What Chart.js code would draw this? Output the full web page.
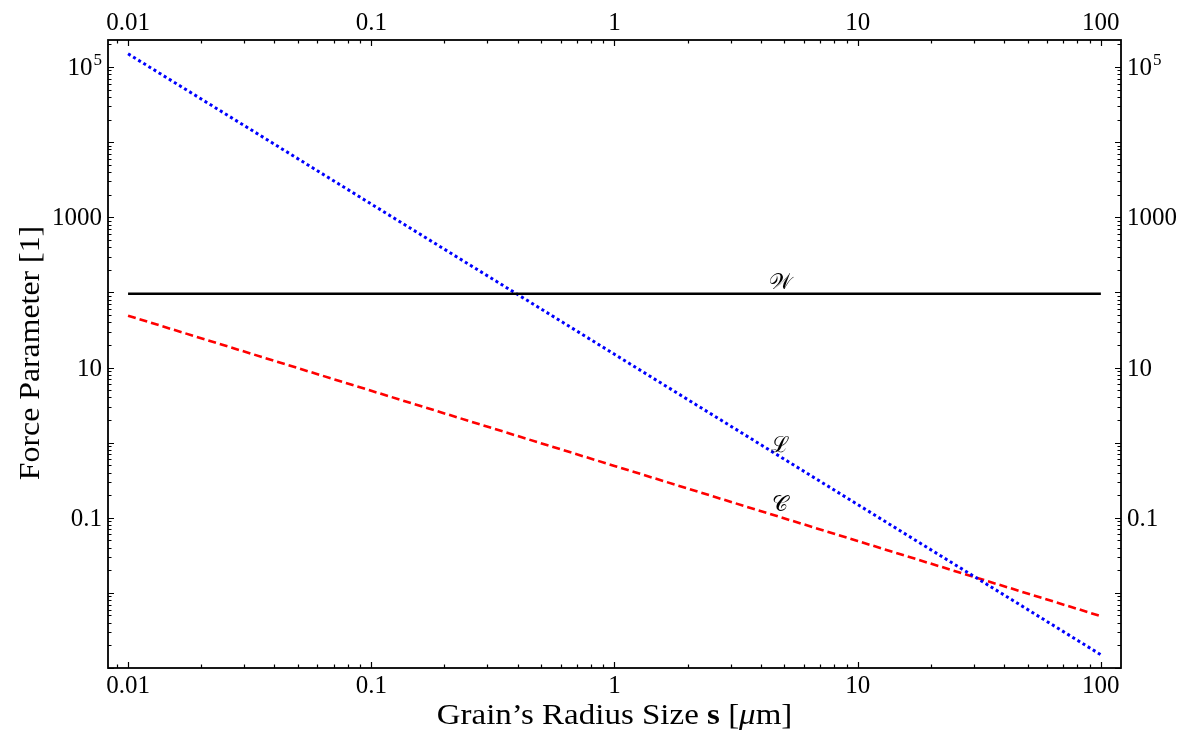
<!DOCTYPE html>
<html>
<head>
<meta charset="utf-8">
<script src="https://cdn.jsdelivr.net/npm/chart.js@4/dist/chart.umd.min.js"></script>
<style>
  html, body { margin: 0; padding: 0; background: #fff; }
  #wrap { width: 1191px; height: 731px; position: relative; }
</style>
</head>
<body>
<div id="wrap"><canvas id="chart"></canvas></div>
<script>
// grain radius s [um]
const radius = [0.01, 0.1, 1, 10, 100];
// force parameters
const weight = [96, 96, 96, 96, 96];
const lorentz = [150000, 1500, 15, 0.15, 0.0015];
const coulomb = [49, 4.9, 0.49, 0.049, 0.0049];

const xTicks = [0.01, 0.1, 1, 10, 100];
const xTickLabels = ["0.01", "0.1", "1", "10", "100"];
const yTicks = [1e5, 1000, 10, 0.1];
const yTickLabels = ["10^5", "1000", "10", "0.1"];

const SERIF = "'Liberation Serif', 'DejaVu Serif', serif";
const TICK_FONT = "25px " + SERIF;
const SUP_FONT = "17px " + SERIF;

function pts(ys) {
    return radius.map((x, i) => ({ x: x, y: ys[i] }));
}

// draws the frame, inward ticks, labels and titles
const axesPlugin = {
    id: "axesPlugin",
    afterDatasetsDraw(chart) {
        const ctx = chart.ctx;
        const a = chart.chartArea;
        const xs = chart.scales.x;
        const ys = chart.scales.y;
        ctx.save();
        ctx.strokeStyle = "#000";
        ctx.fillStyle = "#000";

        // minor + decade ticks, pointing inward
        ctx.lineWidth = 1.2;
        for (let e = -3; e <= 5; e++) {
            for (let m = 1; m <= 9; m++) {
                const v = m * Math.pow(10, e);
                const len = m === 1 ? 6 : 3.5;
                if (v >= xs.min && v <= xs.max) {
                    const px = Math.round(xs.getPixelForValue(v)) + 0.5;
                    ctx.beginPath();
                    ctx.moveTo(px, a.bottom); ctx.lineTo(px, a.bottom - len);
                    ctx.moveTo(px, a.top); ctx.lineTo(px, a.top + len);
                    ctx.stroke();
                }
                if (v >= ys.min && v <= ys.max) {
                    const py = Math.round(ys.getPixelForValue(v)) + 0.5;
                    ctx.beginPath();
                    ctx.moveTo(a.left, py); ctx.lineTo(a.left + len, py);
                    ctx.moveTo(a.right, py); ctx.lineTo(a.right - len, py);
                    ctx.stroke();
                }
            }
        }

        // frame
        ctx.lineWidth = 1.8;
        ctx.strokeRect(a.left, a.top, a.right - a.left, a.bottom - a.top);

        // x tick labels top and bottom
        ctx.font = TICK_FONT;
        ctx.textAlign = "center";
        ctx.textBaseline = "alphabetic";
        xTicks.forEach((v, i) => {
            const px = xs.getPixelForValue(v);
            ctx.fillText(xTickLabels[i], px, a.top - 10);
            ctx.fillText(xTickLabels[i], px, a.bottom + 25);
        });

        // y tick labels left and right
        ctx.textBaseline = "alphabetic";
        yTicks.forEach((v, i) => {
            const py = ys.getPixelForValue(v);
            const lab = yTickLabels[i];
            const base = lab.split("^")[0];
            const exp = lab.split("^")[1] || "";
            ctx.font = TICK_FONT;
            const wb = ctx.measureText(base).width;
            ctx.font = SUP_FONT;
            const we = exp ? ctx.measureText(exp).width + 1 : 0;
            const lefts = [a.left - 6 - wb - we, a.right + 6];
            lefts.forEach(x0 => {
                ctx.textAlign = "left";
                ctx.font = TICK_FONT;
                ctx.fillText(base, x0, py + 8);
                if (exp) {
                    ctx.font = SUP_FONT;
                    ctx.fillText(exp, x0 + wb + 1, py - 2);
                }
            });
        });

        // x axis title (slightly stretched to match the wider original face)
        const parts = [
            ["Grain\u2019s Radius Size ", ""],
            ["s", "bold "],
            [" [", ""],
            ["\u03bc", "italic "],
            ["m]", ""]
        ];
        const SX = 1.1;
        let total = 0;
        parts.forEach(p => {
            ctx.font = p[1] + "30px " + SERIF;
            p.push(ctx.measureText(p[0]).width);
            total += p[2];
        });
        ctx.save();
        ctx.translate((a.left + a.right) / 2, 724);
        ctx.scale(SX, 1);
        let x = -total / 2;
        ctx.textAlign = "left";
        parts.forEach(p => {
            ctx.font = p[1] + "30px " + SERIF;
            ctx.fillText(p[0], x, 0);
            x += p[2];
        });
        ctx.restore();

        // y axis title
        ctx.save();
        ctx.translate(39, (a.top + a.bottom) / 2 - 1);
        ctx.rotate(-Math.PI / 2);
        ctx.scale(1.06, 1);
        ctx.textAlign = "center";
        ctx.font = "30px " + SERIF;
        ctx.fillText("Force Parameter [1]", 0, 0);
        ctx.restore();

        // curve labels
        ctx.font = "22px " + SERIF;
        ctx.textAlign = "center";
        ctx.textBaseline = "alphabetic";
        const lx = xs.getPixelForValue(4.8);
        ctx.fillText("\ud835\udcb2", lx, ys.getPixelForValue(weight[3]) - 5);
        ctx.fillText("\u2112", lx, ys.getPixelForValue(0.76));
        ctx.fillText("\ud835\udc9e", lx, ys.getPixelForValue(0.124));
        ctx.restore();
    }
};

new Chart(document.getElementById("chart"), {
    type: "line",
    data: {
        datasets: [
            {
                label: "W",
                data: pts(weight),
                borderColor: "#000000",
                borderWidth: 2.6,
                pointRadius: 0,
                fill: false
            },
            {
                label: "L",
                data: pts(lorentz),
                borderColor: "#0000ff",
                borderWidth: 3,
                borderDash: [3, 3],
                pointRadius: 0,
                fill: false
            },
            {
                label: "C",
                data: pts(coulomb),
                borderColor: "#ff0000",
                borderWidth: 2.6,
                borderDash: [8, 4],
                pointRadius: 0,
                fill: false
            }
        ]
    },
    options: {
        responsive: true,
        maintainAspectRatio: false,
        animation: false,
        layout: { padding: { left: 108, right: 70, top: 40, bottom: 63 } },
        plugins: {
            legend: { display: false },
            tooltip: { enabled: false }
        },
        scales: {
            x: {
                type: "logarithmic",
                min: 0.00827,
                max: 121,
                display: false
            },
            y: {
                type: "logarithmic",
                min: 0.001,
                max: 229000,
                display: false
            }
        }
    },
    plugins: [axesPlugin]
});
</script>
</body>
</html>
